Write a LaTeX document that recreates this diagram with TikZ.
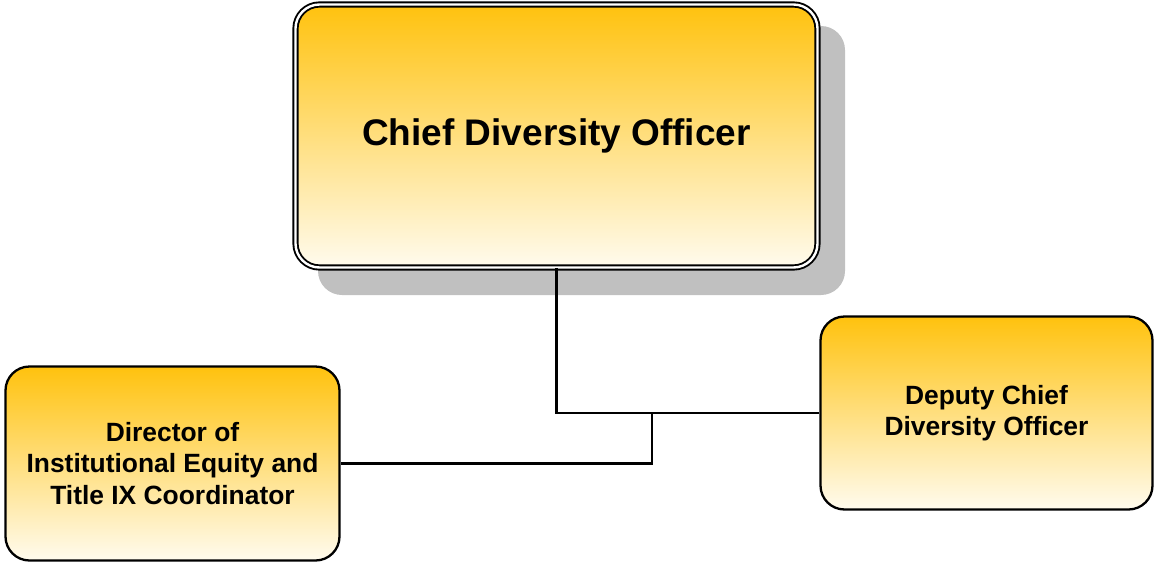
\documentclass[tikz,border=0pt]{standalone}
\usepackage{fontspec}
\setmainfont{Liberation Sans}
\definecolor{gold}{RGB}{255,194,14}
\definecolor{cream}{RGB}{255,251,238}
\definecolor{shadowgray}{RGB}{192,192,192}
\tikzset{
  orgbox/.style={rectangle, rounded corners=24pt, draw=black, line width=2.3pt,
    top color=gold, bottom color=cream, align=center, font=\bfseries\fontsize{26.4}{31.5}\selectfont,
    inner sep=0pt},
  chiefbox/.style={orgbox, line width=1.9pt, double=white, double distance=2.4pt,
    font=\bfseries\fontsize{37}{42}\selectfont},
  link/.style={draw=black, line width=2.6pt}
}
\begin{document}
\begin{tikzpicture}[x=1pt,y=-1pt]
\useasboundingbox (0,0) rectangle (1154,565);
\fill[shadowgray, rounded corners=24pt] (318,26) rectangle (845,295);
\node[chiefbox, minimum width=522pt, minimum height=263pt] (cdo) at (556.5,136) {Chief Diversity Officer};
\node[orgbox, minimum width=334pt, minimum height=194pt] (dir) at (172.5,463.5) {Director of\\Institutional Equity and\\Title IX Coordinator};
\node[orgbox, minimum width=332pt, minimum height=193pt] (dep) at (986.5,413) {Deputy Chief\\Diversity Officer};
\coordinate (j) at (652,413);
\draw[link] (cdo.south) |- (dep.west);
\draw[link] (j) |- (dir.east);
\end{tikzpicture}
\end{document}
